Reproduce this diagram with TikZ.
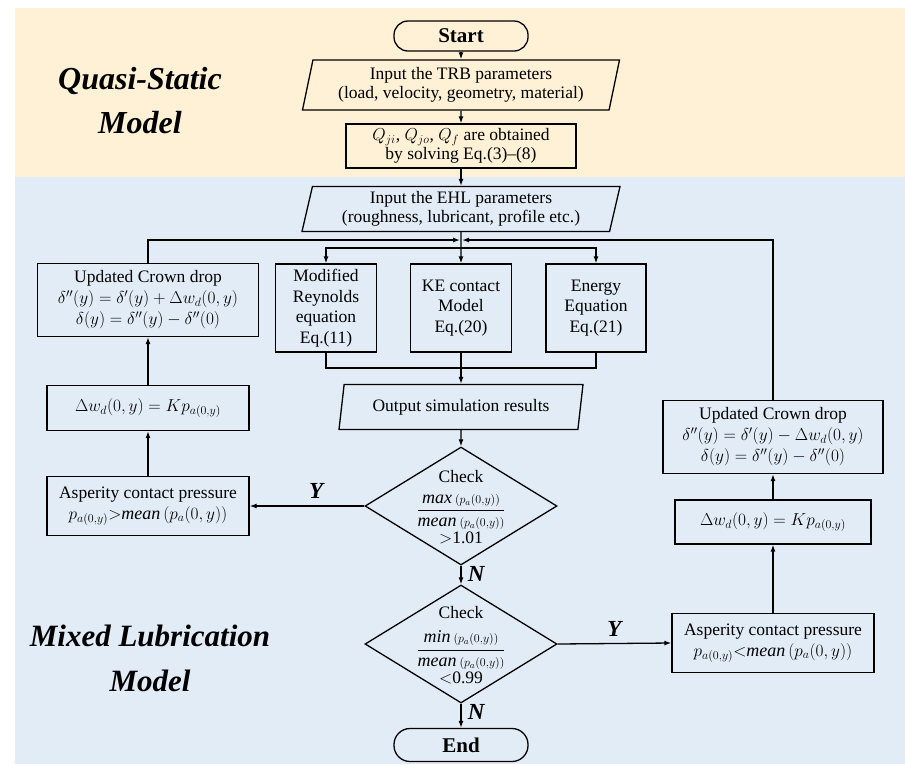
\documentclass[tikz,border=0pt]{standalone}
\usepackage{amsmath}
\usepackage{fontspec}
\setmainfont{Liberation Serif}
\usetikzlibrary{shapes.geometric,arrows.meta,calc}
\definecolor{bgyel}{RGB}{254,241,214}
\definecolor{bgblu}{RGB}{226,236,247}
\newcommand\mth[1]{{\fontsize{17.5}{18}\selectfont$#1$}}
\newcommand\mtha[1]{{\fontsize{16.5}{18}\selectfont$#1$}}
\newcommand\mthb[1]{{\fontsize{18}{18}\selectfont$#1$}}
\begin{document}
\begin{tikzpicture}[x=1pt,y=-1pt,
  every node/.style={font=\fontsize{17.5}{18.5}\selectfont},
  box/.style={draw,line width=1.3pt,rectangle,align=center,inner sep=1pt},
  tall/.style={font=\fontsize{17.5}{20.5}\selectfont},
  term/.style={draw,line width=1.3pt,rounded corners=14pt,minimum width=134pt,minimum height=30pt,font=\bfseries\fontsize{21}{22}\selectfont},
  io/.style={draw,line width=1.3pt,trapezium,trapezium left angle=74,trapezium right angle=106,trapezium stretches body,align=center,inner sep=1pt},
  dec/.style={draw,line width=1.3pt,diamond,minimum width=192pt,minimum height=118pt,inner sep=0pt},
  frac/.style={font=\fontsize{18}{20}\selectfont,inner sep=0pt},
  arr/.style={line width=1.3pt,-{Latex[length=7pt,width=5pt]}},
  ln/.style={line width=1.3pt},
  lab/.style={font=\bfseries\itshape\fontsize{23}{24}\selectfont},
  title/.style={font=\bfseries\itshape\fontsize{32}{44}\selectfont,align=center},
  title2/.style={font=\bfseries\itshape\fontsize{31}{45}\selectfont,align=center}
]
\useasboundingbox (0,0) rectangle (905,764);
\fill[bgyel] (15,8) rectangle (905,177);
\fill[bgblu] (15,177) rectangle (905,764);

\node[title] (t1) at (140,101) {Quasi-Static\\Model};
\node[title2] (t2) at (150,658) {Mixed Lubrication\\Model};

\node[term] (start) at (461,36) {Start};
\node[io,minimum width=317pt,minimum height=50pt] (trb) at (461,85) {Input the TRB parameters\\(load, velocity, geometry, material)};
\node[box,minimum width=230pt,minimum height=44pt] (q) at (461,146) {$Q_{ji}$, $Q_{jo}$, $Q_f$ are obtained\\by solving Eq.(3)--(8)};
\node[io,minimum width=318pt,minimum height=45pt] (ehl) at (461,209) {Input the EHL parameters\\(roughness, lubricant, profile etc.)};

\node[box,tall,minimum width=101pt,minimum height=88pt] (mr) at (326,308) {Modified\\Reynolds\\equation\\Eq.(11)};
\node[box,tall,minimum width=101pt,minimum height=88pt] (ke) at (461,308) {KE contact\\Model\\Eq.(20)};
\node[box,tall,minimum width=100pt,minimum height=88pt] (en) at (596,308) {Energy\\Equation\\Eq.(21)};

\node[io,minimum width=244pt,minimum height=45pt] (out) at (461,407) {Output simulation results};

\node[dec] (d1) at (461,506) {};
\node (d1a) at (461,477) {Check};
\node[frac] (d1b) at (461,512) {$\dfrac{\mathit{max}\,{\scriptstyle(p_a(0,y))}}{\mathit{mean}\,{\scriptstyle(p_a(0,y))}}$};
\node (d1c) at (461,538) {$>$1.01};
\node[dec] (d2) at (461,644) {};
\node (d2a) at (461,613) {Check};
\node[frac] (d2b) at (461,650) {$\dfrac{\mathit{min}\,{\scriptstyle(p_a(0,y))}}{\mathit{mean}\,{\scriptstyle(p_a(0,y))}}$};
\node (d2c) at (461,678) {$<$0.99};

\node[term,minimum height=33pt,rounded corners=16pt] (end) at (461,745) {End};

\node[box,minimum width=221pt,minimum height=73pt] (ucl) at (148,300) {Updated Crown drop\\[2.5pt]\mth{\delta''(y)=\delta'(y)+\Delta w_d(0,y)}\\[2.5pt]\mth{\delta(y)=\delta''(y)-\delta''(0)}};
\node[box,minimum width=202pt,minimum height=45pt] (dwl) at (148,408) {\mtha{\Delta w_d(0,y)=Kp_{a(0,y)}}};
\node[box,minimum width=202pt,minimum height=59pt] (aspl) at (148,506) {Asperity contact pressure\\[2pt]\mthb{p_{a(0,y)}{>}\mathit{mean}\,(p_a(0,y))}};

\node[box,minimum width=220pt,minimum height=73pt] (ucr) at (773,437) {Updated Crown drop\\[2.5pt]\mth{\delta''(y)=\delta'(y)-\Delta w_d(0,y)}\\[2.5pt]\mth{\delta(y)=\delta''(y)-\delta''(0)}};
\node[box,minimum width=196pt,minimum height=44pt] (dwr) at (773,522) {\mtha{\Delta w_d(0,y)=Kp_{a(0,y)}}};
\node[box,minimum width=202pt,minimum height=59pt] (aspr) at (773,643) {Asperity contact pressure\\[2pt]\mthb{p_{a(0,y)}{<}\mathit{mean}\,(p_a(0,y))}};

\coordinate (jl) at (460,240);
\coordinate (jr) at (462,240);
\coordinate (split) at (461,248);
\coordinate (mrg) at (461,368);

\draw[arr] (start) -- (trb);
\draw[arr] (trb) -- (q);
\draw[arr] (q) -- (ehl);
\draw[arr] (ehl) -- (ke);
\draw[arr] (split) -| (mr.north);
\draw[arr] (split) -| (en.north);
\draw[ln] (mr.south) |- (mrg);
\draw[ln] (en.south) |- (mrg);
\draw[arr] (ke) -- (out);
\draw[arr] (out) -- (d1);
\draw[arr] (d1.west) -- node[lab,above=4pt,pos=0.42] {Y} (aspl.east);
\draw[arr] (aspl) -- (dwl);
\draw[arr] (dwl) -- (ucl);
\draw[arr] (ucl.north) |- (jl);
\draw[arr] (d1.south) -- node[lab,right=3pt,pos=0.45] {N} (d2.north);
\draw[arr] (d2.east) -- node[lab,above=3pt,pos=0.5] {Y} (aspr.west);
\draw[arr] (aspr) -- (dwr);
\draw[arr] (dwr) -- (ucr);
\draw[arr] (ucr.north) |- (jr);
\draw[arr] (d2.south) -- node[lab,right=3pt,pos=0.35] {N} (end);
\end{tikzpicture}
\end{document}
